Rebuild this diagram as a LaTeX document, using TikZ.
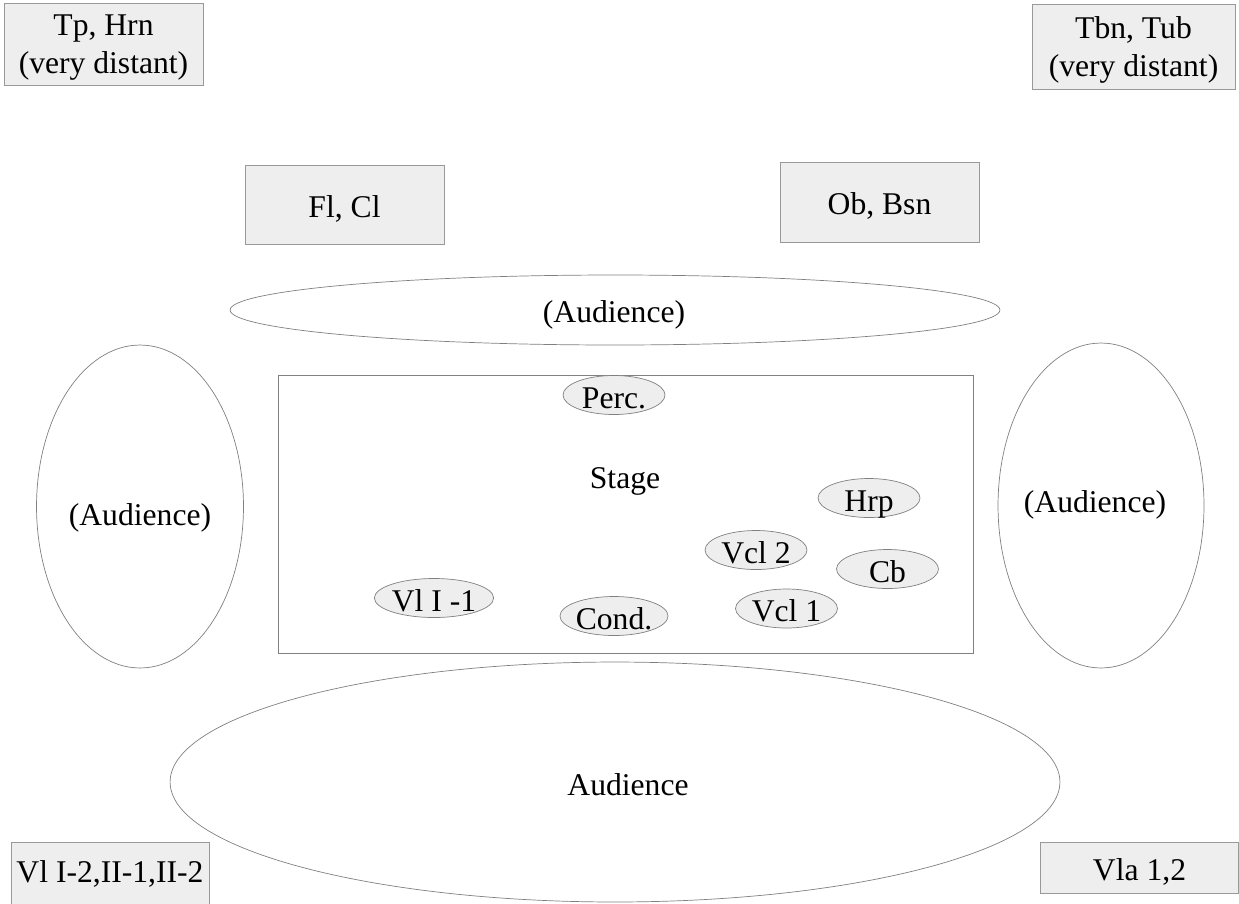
\documentclass[tikz,border=0pt]{standalone}
\usepackage{fontspec}
\setmainfont{Liberation Serif}
\usetikzlibrary{shapes.geometric}

\definecolor{boxfill}{HTML}{EEEEEE}
\definecolor{boxline}{HTML}{999999}
\definecolor{ringline}{HTML}{808080}

\tikzset{
  section/.style={draw=boxline,fill=boxfill,inner sep=0pt,align=center,text depth=0pt},
  oneline/.style={text height=14.4pt},
  audience/.style={draw=ringline,ellipse,inner sep=0pt},
  player/.style={draw=ringline,fill=boxfill,ellipse,inner sep=0pt,
    minimum width=2.04cm,minimum height=0.78cm,text height=14.8pt,text depth=0pt}
}

\begin{document}
\begin{tikzpicture}[x=0.02cm,y=-0.02cm,font=\fontsize{18}{21.5}\selectfont]
\useasboundingbox (0,0) rectangle (1239,903);
\clip (0,0) rectangle (1239,903);
% distant groups
\node [section,minimum width=3.98cm,minimum height=1.64cm] (brass) at (103.5,44) {Tp, Hrn\\(very distant)};
\node [section,minimum width=4.06cm,minimum height=1.70cm] (lowbrass) at (1133.5,46.5) {Tbn, Tub\\(very distant)};
\node [section,oneline,minimum width=3.98cm,minimum height=1.58cm] (flcl) at (344.5,204.5) {Fl, Cl};
\node [section,oneline,minimum width=3.98cm,minimum height=1.60cm] (obbsn) at (879.5,202) {Ob, Bsn};
\node [section,minimum width=3.96cm,minimum height=1.60cm,text height=10pt,text depth=10pt] (violins) at (110,882) {Vl I-2,II-1,II-2};
\node [section,oneline,minimum width=3.96cm,minimum height=1.02cm] (violas) at (1139.5,867.5) {Vla 1,2};
% audience
\node [audience,minimum width=15.4cm,minimum height=1.4cm] (audtop) at (615,310) {};
\node [audience,minimum width=4.14cm,minimum height=6.46cm] (audleft) at (140,506.5) {};
\node [audience,minimum width=4.12cm,minimum height=6.5cm] (audright) at (1101,505.5) {};
\node [audience,minimum width=17.8cm,minimum height=4.8cm] (audmain) at (615,782) {};
\node (audtoptext) at (614,315) {(Audience)};
\node (audlefttext) at (140,518) {(Audience)};
\node (audrighttext) at (1095,505) {(Audience)};
\node (audmaintext) at (628,785) {Audience};
% stage
\node [draw=ringline,minimum width=13.9cm,minimum height=5.56cm,inner sep=0pt] (stage) at (625.5,514) {};
\node (stagetext) at (625,481) {Stage};
\node [player] (perc) at (614,395) {Perc.};
\node [player] (hrp) at (869,498) {Hrp};
\node [player] (vcltwo) at (756,550) {Vcl 2};
\node [player] (cb) at (887.5,569) {Cb};
\node [player] (vlone) at (434,598) {Vl I -1};
\node [player] (cond) at (614,616) {Cond.};
\node [player] (vclone) at (786.5,608.5) {Vcl 1};
\end{tikzpicture}
\end{document}
